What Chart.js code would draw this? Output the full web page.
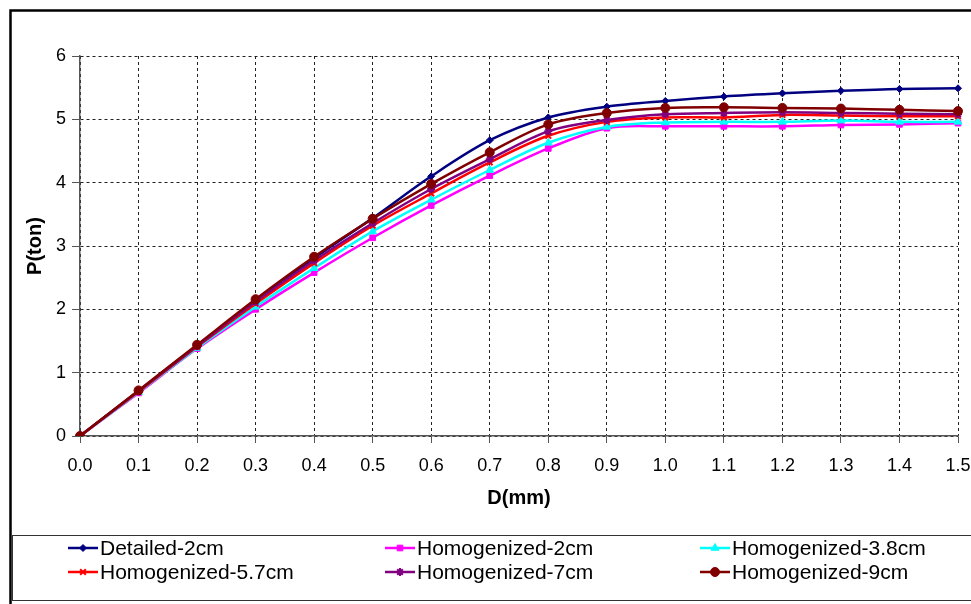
<!DOCTYPE html>
<html>
<head>
<meta charset="utf-8">
<script src="https://cdn.jsdelivr.net/npm/chart.js@4.4.1/dist/chart.umd.min.js"></script>
<style>
  html, body { margin: 0; padding: 0; background: #fff; }
  #wrap { width: 971px; height: 604px; position: relative; }
</style>
</head>
<body>
<div id="wrap"><canvas id="pdChart"></canvas></div>
<script>
// D(mm) categories
const X_LABELS = ['0.0', '0.1', '0.2', '0.3', '0.4', '0.5', '0.6', '0.7',
                  '0.8', '0.9', '1.0', '1.1', '1.2', '1.3', '1.4', '1.5'];

// P(ton) per series
const DETAILED_2CM    = [0, 0.71, 1.43, 2.13, 2.81, 3.44, 4.10, 4.67, 5.03, 5.20, 5.29, 5.36, 5.41, 5.45, 5.48, 5.49];
const HOMOG_2CM       = [0, 0.68, 1.38, 2.00, 2.58, 3.13, 3.64, 4.11, 4.54, 4.86, 4.89, 4.89, 4.89, 4.91, 4.92, 4.94];
const HOMOG_3_8CM     = [0, 0.69, 1.39, 2.04, 2.65, 3.23, 3.73, 4.20, 4.63, 4.88, 4.95, 4.96, 4.96, 4.98, 4.96, 4.96];
const HOMOG_5_7CM     = [0, 0.70, 1.41, 2.09, 2.73, 3.32, 3.83, 4.32, 4.74, 4.96, 5.03, 5.03, 5.07, 5.06, 5.05, 5.05];
const HOMOG_7CM       = [0, 0.71, 1.42, 2.12, 2.77, 3.36, 3.90, 4.37, 4.81, 4.99, 5.08, 5.10, 5.11, 5.10, 5.09, 5.08];
const HOMOG_9CM       = [0, 0.72, 1.44, 2.16, 2.83, 3.43, 3.98, 4.48, 4.92, 5.10, 5.18, 5.19, 5.18, 5.17, 5.15, 5.13];

const SERIES_NAMES = ['Detailed-2cm', 'Homogenized-2cm', 'Homogenized-3.8cm',
                      'Homogenized-5.7cm', 'Homogenized-7cm', 'Homogenized-9cm'];

const FONT = '"Liberation Sans", Arial, sans-serif';

function makeSet(i, data, color, style, radius) {
    return {
        label: SERIES_NAMES[i],
        data: data,
        borderColor: color,
        backgroundColor: color,
        pointBackgroundColor: color,
        pointBorderColor: color,
        pointStyle: style,
        pointRadius: radius,
        pointBorderWidth: (style === 'crossRot' || style === 'star') ? 2 : 1,
        borderWidth: 2.5,
        tension: 0.33,
        order: 5 - i
    };
}

// frame around the whole chart + legend box at the bottom
const framePlugin = {
    id: 'frameAndLegend',
    afterDraw(chart) {
        const ctx = chart.ctx;
        ctx.save();
        ctx.setLineDash([]);
        ctx.strokeStyle = '#000';
        ctx.lineWidth = 2.5;
        ctx.strokeRect(10.5, 10.5, 1000, 700);

        ctx.lineWidth = 1;
        ctx.strokeStyle = '#333';
        ctx.strokeRect(12.5, 535.5, 1000, 65);

        const colX = [68, 385, 700];
        const rowY = [548, 572];
        ctx.font = '21px ' + FONT;
        ctx.textBaseline = 'middle';
        chart.data.datasets.forEach((ds, i) => {
            const x = colX[i % 3];
            const y = rowY[Math.floor(i / 3)];
            ctx.strokeStyle = ds.borderColor;
            ctx.lineWidth = 2.5;
            ctx.beginPath();
            ctx.moveTo(x, y);
            ctx.lineTo(x + 30, y);
            ctx.stroke();
            ctx.fillStyle = ds.borderColor;
            ctx.lineWidth = ds.pointBorderWidth;
            Chart.helpers.drawPoint(ctx, {
                pointStyle: ds.pointStyle,
                radius: ds.pointRadius,
                rotation: 0,
                borderWidth: ds.pointBorderWidth
            }, x + 15, y);
            ctx.fillStyle = '#000';
            ctx.fillText(ds.label, x + 32, y + 1);
        });
        ctx.restore();
    }
};

const chart = new Chart(document.getElementById('pdChart'), {
    type: 'line',
    data: {
        labels: X_LABELS,
        datasets: [
            makeSet(0, DETAILED_2CM, '#000080', 'rectRot', 3.5),
            makeSet(1, HOMOG_2CM, '#FF00FF', 'rect', 4),
            makeSet(2, HOMOG_3_8CM, '#00FFFF', 'triangle', 4.5),
            makeSet(3, HOMOG_5_7CM, '#FF0000', 'crossRot', 4),
            makeSet(4, HOMOG_7CM, '#800080', 'star', 4),
            makeSet(5, HOMOG_9CM, '#800000', 'circle', 4.5)
        ]
    },
    options: {
        responsive: true,
        maintainAspectRatio: false,
        animation: false,
        layout: {
            padding: { left: 12, top: 56, right: 13, bottom: 88 }
        },
        plugins: {
            legend: { display: false },
            tooltip: { enabled: false }
        },
        scales: {
            x: {
                grid: {
                    color: '#222',
                    tickLength: 7,
                    tickBorderDash: [],
                    tickColor: '#555'
                },
                border: { color: '#555', width: 1.5, dash: [3, 3] },
                ticks: {
                    color: '#000',
                    font: { family: FONT, size: 18 },
                    padding: 12,
                    maxRotation: 0,
                    autoSkip: false
                },
                title: {
                    display: true,
                    text: 'D(mm)',
                    color: '#000',
                    font: { family: FONT, size: 20, weight: 'bold' },
                    padding: { top: 0, bottom: 6 }
                },
                afterFit(scale) {
                    scale.height = 80;
                    // let the last label run to the edge like the original
                    scale.paddingRight = 0;
                }
            },
            y: {
                min: 0,
                max: 6,
                grid: {
                    color: '#222',
                    tickLength: 8,
                    tickBorderDash: [],
                    tickColor: '#555'
                },
                border: { color: '#555', width: 1.5, dash: [3, 3] },
                ticks: {
                    stepSize: 1,
                    color: '#000',
                    font: { family: FONT, size: 18 },
                    padding: 6
                },
                title: {
                    display: true,
                    text: 'P(ton)',
                    color: '#000',
                    font: { family: FONT, size: 20, weight: 'bold' },
                    padding: { top: 11, bottom: 0 }
                },
                afterFit(scale) { scale.width = 68; }
            }
        }
    },
    plugins: [framePlugin]
});
</script>
</body>
</html>
